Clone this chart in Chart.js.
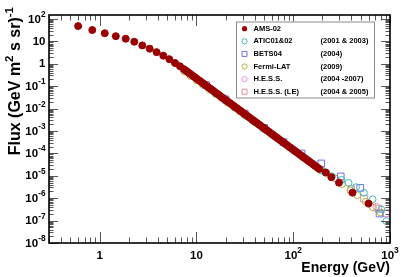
<!DOCTYPE html>
<html><head><meta charset="utf-8">
<script src="https://cdn.jsdelivr.net/npm/chart.js@4/dist/chart.umd.min.js"></script>
<style>html,body{margin:0;padding:0;background:#fff;overflow:hidden}#wrap{width:407px;height:277px}</style>
</head><body><div id="wrap"><canvas id="c" width="407" height="277"></canvas></div>
<script>
// ---- data ----
const amsE = [0.60,0.84,1.13,1.47,1.86,2.28,2.76,3.29,3.88,4.55,5.25,6.01,6.77,
  7.41,7.76,8.13,8.51,8.91,9.33,9.77,10.23,10.72,11.22,11.75,12.30,12.88,13.49,14.13,14.79,15.49,16.22,16.98,17.78,
  18.62,19.50,20.42,21.38,22.39,23.44,24.55,25.70,26.92,28.18,29.51,30.90,32.36,33.88,35.48,37.15,38.90,40.74,
  42.66,44.67,46.77,48.98,51.29,53.70,56.23,58.88,61.66,64.57,67.61,70.79,74.13,77.62,81.28,85.11,89.13,93.33,
  97.72,102.3,107.2,112.2,117.5,123.0,128.8,134.9,141.3,147.9,154.9,162.2,169.8,177.8,186.2,
  217,248,297,410,600];
const amsF = [48,32,23,17,13.1,9.6,6.6,4.7,3.3,2.3,1.6,1.08,0.77,
  0.574,0.496,0.429,0.370,0.319,0.276,0.238,0.2056,0.1775,0.1535,0.1324,0.1146,0.0988,0.0853,0.0738,0.0637,0.0551,0.0475,0.0410,0.0355,
  0.0306,0.02642,0.0229,0.01972,0.01706,0.01472,0.01274,0.01099,0.00951,0.00820,0.00708,0.00612,0.00528,0.00456,0.00394,0.00340,0.00294,0.002541,
  0.00220,0.001897,0.001637,0.001416,0.001222,0.001054,0.000912,0.000787,0.000681,0.000587,0.000508,0.000439,0.000379,0.000327,0.000283,0.000244,0.000211,0.000182,
  0.0001574,0.0001358,0.0001175,0.0001014,8.75e-5,7.57e-5,6.53e-5,5.65e-5,4.88e-5,4.21e-5,3.64e-5,3.14e-5,2.72e-5,2.34e-5,2.02e-5,
  1.41e-5,8.7e-6,4.95e-6,1.77e-6,5.74e-7];
const aticE = [15.8,20.0,25.1,31.6,39.8,50.1,63.1,79.4,100,125.9,158.5,199.5,251,316,374,447,538,661,813,916];
const aticF = [0.0467,0.02244,0.01079,0.00519,0.00249,0.001227,0.000604,0.000297,0.0001466,7.21e-5,3.47e-5,1.67e-5,9.5e-6,6.6e-6,4.85e-6,3.1e-6,1.74e-6,9.0e-7,3.17e-7,9.5e-8];
const betsE = [12.6,20.0,31.6,50.1,79.4,122,195,310,493,779];
const betsF = [0.1114,0.02576,0.00596,0.001377,0.000318,9.9e-5,3.55e-5,9.35e-6,2.88e-6,2.06e-7];
const fermiE = [7.50,8.69,10.07,11.67,13.52,15.67,18.16,21.04,24.38,28.25,32.73,37.93,43.95,50.93,59.02,68.39,79.25,91.83,106.4,123.3,142.9,165.6,191.9,222,272,319,390,459,560,667,800];
const fermiF = [0.450,0.284,0.180,0.114,0.0723,0.0457,0.0290,0.01832,0.01161,0.00735,0.00466,0.00294,0.001866,0.00118,0.000748,0.000473,0.000299,0.0001875,0.0001172,7.35e-5,4.59e-5,2.88e-5,1.80e-5,1.27e-5,7.62e-6,4.25e-6,2.2e-6,1.37e-6,7.0e-7,3.89e-7,2.3e-7];
const hessE = [722,916];
const hessF = [4.14e-7,2.1e-7];
const hessLeE = [398,539,757,925];
const hessLeF = [2.54e-6,9.6e-7,3.44e-7,2.1e-7];

const seriesNames = ['AMS-02','ATIC01&02','BETS04','Fermi-LAT','H.E.S.S.','H.E.S.S. (LE)'];
const seriesYears = ['','(2001 & 2003)','(2004)','(2009)','(2004 -2007)','(2004 & 2005)'];
const xTickValues = [1,10,100,1000];
const xTickLabels = [['1',''],['10',''],['10','2'],['10','3']];
const yTickExps = [-8,-7,-6,-5,-4,-3,-2,-1,0,1,2];
const xTitle = 'Energy (GeV)';
const yTitleParts = [['Flux (GeV m',''],['','2'],[' s sr)',''],['','-1']];

const X_MIN = 0.3, X_MAX = 1000, Y_MIN = 1e-8, Y_MAX = 150;

const colors = ['#990000','#3fb8b8','#6f6fe8','#b3b33a','#f08cf0','#e09090'];
const FONT = '"Liberation Sans", Arial, Helvetica, sans-serif';

const pts = (E, F) => E.map((e, i) => ({x: e, y: F[i]}));

function ds(label, E, F, color, style, filled, r) {
  return {
    label, data: pts(E, F), showLine: false,
    pointStyle: style, pointRadius: r, pointHoverRadius: r,
    pointBorderColor: color, pointBackgroundColor: filled ? color : 'rgba(0,0,0,0)',
    pointBorderWidth: 1
  };
}

function drawPow(ctx, base, exp, x, y, size, align) {
  const es = size * 0.72;
  ctx.font = `bold ${size}px ${FONT}`;
  const bw = base ? ctx.measureText(base).width : 0;
  let ew = 0;
  if (exp) { ctx.font = `bold ${es}px ${FONT}`; ew = ctx.measureText(exp).width; }
  const w = bw + ew;
  const x0 = align === 'center' ? x - w / 2 : align === 'right' ? x - w : x;
  ctx.textAlign = 'left'; ctx.textBaseline = 'middle'; ctx.fillStyle = '#000';
  if (base) { ctx.font = `bold ${size}px ${FONT}`; ctx.fillText(base, x0, y); }
  if (exp) { ctx.font = `bold ${es}px ${FONT}`; ctx.fillText(exp, x0 + bw, y - size * 0.42); }
}

function marker(ctx, i, x, y) {
  ctx.save();
  ctx.strokeStyle = colors[i]; ctx.fillStyle = colors[i]; ctx.lineWidth = 1;
  ctx.beginPath();
  if (i === 2 || i === 5) { ctx.rect(x - 2.5, y - 2.5, 5, 5); ctx.stroke(); }
  else { ctx.arc(x, y, 2.6, 0, Math.PI * 2); if (i === 0) ctx.fill(); else ctx.stroke(); }
  ctx.restore();
}

const decor = {
  id: 'decor',
  afterDraw(chart) {
    const ctx = chart.ctx, a = chart.chartArea;
    const xs = chart.scales.x, ys = chart.scales.y;
    ctx.save();
    // ticks
    ctx.lineWidth = 1; ctx.strokeStyle = '#555';
    for (let d = -1; d <= 3; d++) {
      for (let m = 1; m <= 9; m++) {
        const v = m * Math.pow(10, d);
        if (v < X_MIN - 1e-9 || v > X_MAX + 1e-9) continue;
        const px = Math.round(xs.getPixelForValue(v)) + 0.5;
        const len = m === 1 ? 11 : 5.5;
        ctx.beginPath();
        ctx.moveTo(px, a.bottom); ctx.lineTo(px, a.bottom - len);
        ctx.moveTo(px, a.top); ctx.lineTo(px, a.top + len);
        ctx.stroke();
      }
    }
    for (let d = -8; d <= 2; d++) {
      for (let m = 1; m <= 9; m++) {
        const v = m * Math.pow(10, d);
        if (v < Y_MIN * 0.999 || v > Y_MAX) continue;
        const py = Math.round(ys.getPixelForValue(v)) + 0.5;
        const len = m === 1 ? 9 : 4.5;
        ctx.beginPath();
        ctx.moveTo(a.left, py); ctx.lineTo(a.left + len, py);
        ctx.moveTo(a.right, py); ctx.lineTo(a.right - len, py);
        ctx.stroke();
      }
    }
    // frame
    ctx.strokeStyle = '#000'; ctx.lineWidth = 1.6;
    ctx.strokeRect(a.left, a.top, a.right - a.left, a.bottom - a.top);
    // x tick labels
    xTickValues.forEach((v, i) => {
      drawPow(ctx, xTickLabels[i][0], xTickLabels[i][1], xs.getPixelForValue(v), 255.5, 11.5, 'center');
    });
    // y tick labels
    yTickExps.forEach(e => {
      const py = ys.getPixelForValue(Math.pow(10, e));
      const base = e === 0 ? '1' : '10';
      const exp = (e === 0 || e === 1) ? '' : String(e);
      drawPow(ctx, base, exp, 45.5, py + 0.5, 11.5, 'right');
    });
    // x title
    ctx.fillStyle = '#000'; ctx.font = `bold 14px ${FONT}`;
    ctx.textAlign = 'right'; ctx.textBaseline = 'alphabetic';
    ctx.fillText(xTitle, a.right, 272);
    // y title (rotated)
    const ts = 16, tss = ts * 0.72;
    let total = 0;
    yTitleParts.forEach(p => {
      ctx.font = `bold ${ts}px ${FONT}`; total += ctx.measureText(p[0]).width;
      ctx.font = `bold ${tss}px ${FONT}`; total += ctx.measureText(p[1]).width;
    });
    ctx.save();
    ctx.translate(19.5, 7); ctx.rotate(-Math.PI / 2);
    ctx.textAlign = 'left'; ctx.textBaseline = 'alphabetic';
    let tx = -total;
    yTitleParts.forEach(p => {
      if (p[0]) { ctx.font = `bold ${ts}px ${FONT}`; ctx.fillText(p[0], tx, 0); tx += ctx.measureText(p[0]).width; }
      if (p[1]) { ctx.font = `bold ${tss}px ${FONT}`; ctx.fillText(p[1], tx, -ts * 0.42); tx += ctx.measureText(p[1]).width; }
    });
    ctx.restore();
    // legend
    const lx = 236, ly = 21.5, lw = 138, lh = 76;
    ctx.fillStyle = '#fff'; ctx.fillRect(lx, ly, lw, lh);
    ctx.strokeStyle = '#8a8a8a'; ctx.lineWidth = 1;
    ctx.strokeRect(lx + 0.5, ly + 0.5, lw, lh);
    seriesNames.forEach((n, i) => {
      const y = 28.7 + i * 12.6;
      marker(ctx, i, 244.5, y);
      ctx.fillStyle = '#000'; ctx.font = `bold 7.5px ${FONT}`;
      ctx.textAlign = 'left'; ctx.textBaseline = 'middle';
      ctx.fillText(n, 253.5, y);
      if (seriesYears[i]) ctx.fillText(seriesYears[i], 320.5, y);
    });
    ctx.restore();
  }
};

new Chart(document.getElementById('c'), {
  type: 'scatter',
  data: {
    datasets: [
      ds(seriesNames[0], amsE, amsF, colors[0], 'circle', true, 3.5),
      ds(seriesNames[1], aticE, aticF, colors[1], 'circle', false, 3.4),
      ds(seriesNames[2], betsE, betsF, colors[2], 'rect', false, 4.7),
      ds(seriesNames[3], fermiE, fermiF, colors[3], 'circle', false, 3.4),
      ds(seriesNames[4], hessE, hessF, colors[4], 'circle', false, 3.4),
      ds(seriesNames[5], hessLeE, hessLeF, colors[5], 'rect', false, 4.7)
    ]
  },
  options: {
    responsive: false, animation: false, devicePixelRatio: 1,
    layout: { padding: { left: 49, top: 15, right: 17, bottom: 34 } },
    plugins: { legend: { display: false }, tooltip: { enabled: false } },
    scales: {
      x: { type: 'logarithmic', min: X_MIN, max: X_MAX, display: false },
      y: { type: 'logarithmic', min: Y_MIN, max: Y_MAX, display: false }
    }
  },
  plugins: [decor]
});
</script>
</body></html>
